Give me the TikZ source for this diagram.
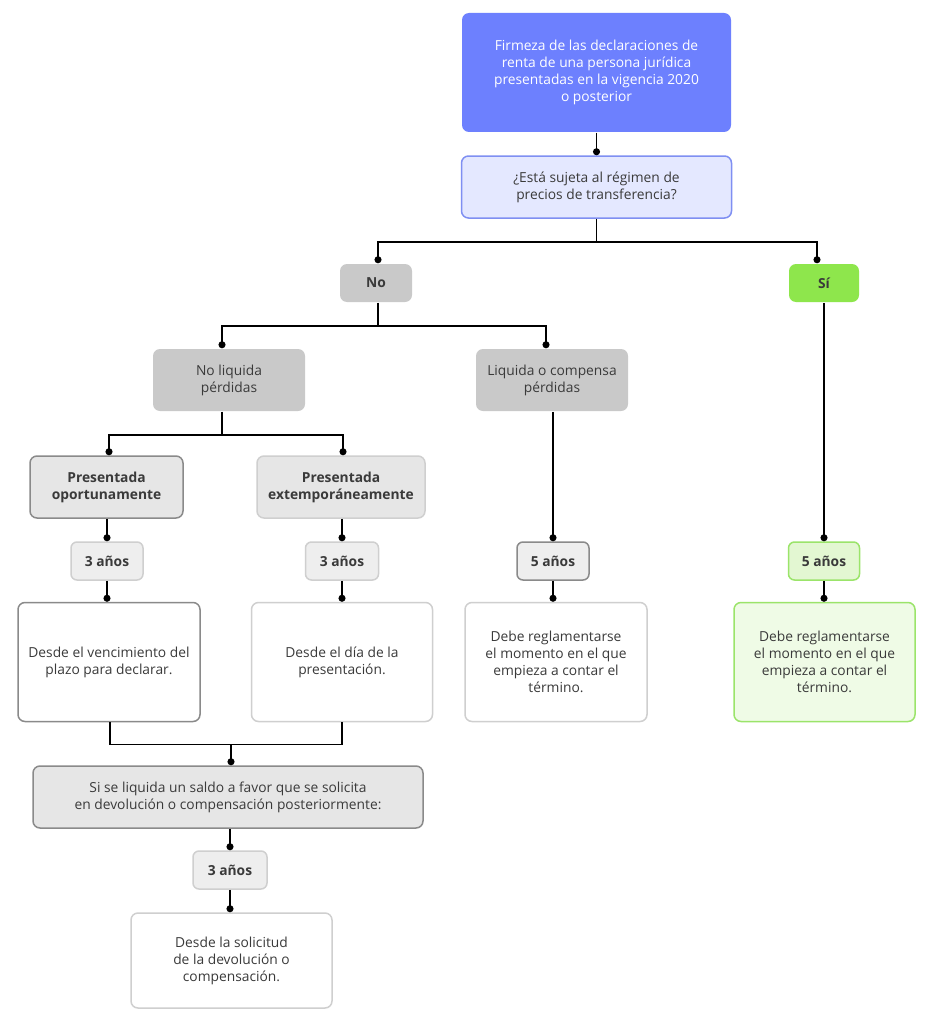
\documentclass[tikz,border=0pt]{standalone}
\usepackage{fontspec}
\setmainfont{Open Sans}
\usetikzlibrary{arrows.meta}
\definecolor{topblue}{HTML}{6D80FE}
\definecolor{qfill}{HTML}{E4E8FF}
\definecolor{qborder}{HTML}{7F8FF2}
\definecolor{nofill}{HTML}{C9C9C9}
\definecolor{sifill}{HTML}{8EE64C}
\definecolor{grayfill}{HTML}{E6E6E6}
\definecolor{yrfill}{HTML}{EEEEEE}
\definecolor{darkborder}{HTML}{8A8A8A}
\definecolor{lightborder}{HTML}{CFCFCF}
\definecolor{greenlight}{HTML}{E3F7D2}
\definecolor{greenborder}{HTML}{9BE46A}
\definecolor{greenpale}{HTML}{EFFBE6}
\definecolor{txt}{HTML}{3A3A3A}
\begin{document}
\begin{tikzpicture}[x=1pt,y=-1pt,
  box/.style={rounded corners=7pt, align=center, text=txt, inner sep=0pt,
    font=\fontsize{13.8}{17}\selectfont, line width=1.5pt},
  bbox/.style={box, font=\fontsize{13.8}{17}\selectfont\bfseries},
  conn/.style={line width=1.5pt, -{Circle[length=7pt,width=7pt]}},
  plain/.style={line width=1.5pt}]
\useasboundingbox (0,0) rectangle (936,1030);
\fill[white] (0,0) rectangle (936,1030);

% top
\node[box, fill=topblue, text=white, minimum width=269, minimum height=119] (top) at (596.5,72.5)
  {Firmeza de las declaraciones de\\renta de una persona jurídica\\presentadas en la vigencia 2020\\o posterior};
\node[box, fill=qfill, draw=qborder, minimum width=270, minimum height=62] (q) at (596.5,187)
  {¿Está sujeta al régimen de\\precios de transferencia?};

\node[bbox, fill=nofill, minimum width=72, minimum height=38] (no) at (376,283) {No};
\node[bbox, fill=sifill, minimum width=70, minimum height=38] (si) at (824,283) {Sí};

\node[box, fill=nofill, minimum width=152, minimum height=62] (nol) at (229,380) {No liquida\\pérdidas};
\node[box, fill=nofill, minimum width=152, minimum height=62] (lc) at (552,380) {Liquida o compensa\\pérdidas};

\node[bbox, fill=grayfill, draw=darkborder, minimum width=153, minimum height=62] (po) at (106.5,487) {Presentada\\oportunamente};
\node[bbox, fill=grayfill, draw=lightborder, minimum width=168, minimum height=62] (pe) at (341,487) {Presentada\\extemporáneamente};

\node[bbox, fill=yrfill, draw=lightborder, rounded corners=6pt, minimum width=72, minimum height=38] (a1) at (107,561) {3 años};
\node[bbox, fill=yrfill, draw=lightborder, rounded corners=6pt, minimum width=73, minimum height=38] (a2) at (342,561) {3 años};
\node[bbox, fill=yrfill, draw=darkborder, rounded corners=6pt, minimum width=72, minimum height=38] (a3) at (553,561) {5 años};
\node[bbox, fill=greenlight, draw=greenborder, rounded corners=6pt, minimum width=71, minimum height=38] (a4) at (824,561) {5 años};

\node[box, fill=white, draw=darkborder, minimum width=182, minimum height=119] (d1) at (109,662)
  {Desde el vencimiento del\\plazo para declarar.};
\node[box, fill=white, draw=lightborder, minimum width=181, minimum height=119] (d2) at (342,662)
  {Desde el día de la\\presentación.};
\node[box, fill=white, draw=lightborder, minimum width=182, minimum height=119] (d3) at (556,662)
  {Debe reglamentarse\\el momento en el que\\empieza a contar el\\término.};
\node[box, fill=greenpale, draw=greenborder, minimum width=181, minimum height=119] (d4) at (824.5,662)
  {Debe reglamentarse\\el momento en el que\\empieza a contar el\\término.};

\node[box, fill=grayfill, draw=darkborder, minimum width=390, minimum height=62] (sl) at (228,797)
  {Si se liquida un saldo a favor que se solicita\\en devolución o compensación posteriormente:};
\node[bbox, fill=yrfill, draw=lightborder, rounded corners=6pt, minimum width=74, minimum height=38] (a5) at (230,870) {3 años};
\node[box, fill=white, draw=lightborder, minimum width=201, minimum height=95] (d5) at (231.5,960.5)
  {Desde la solicitud\\de la devolución o\\compensación.};

% connectors
\draw[conn] (top.south) -- (q.north);
\draw[conn] (q.south) -- ++(0,23) -| ([xshift=2]no.north);
\draw[conn] (q.south) -- ++(0,23) -| ([xshift=-7]si.north);
\draw[conn] ([xshift=2]no.south) -- ++(0,23) -| ([xshift=-7]nol.north);
\draw[conn] ([xshift=2]no.south) -- ++(0,23) -| ([xshift=-6]lc.north);
\draw[conn] ([xshift=-7]nol.south) -- ++(0,23) -| ([xshift=2.5]po.north);
\draw[conn] ([xshift=-7]nol.south) -- ++(0,23) -| ([xshift=2]pe.north);
\draw[conn] (a1.north |- po.south) -- (a1.north);
\draw[conn] (a2.north |- pe.south) -- (a2.north);
\draw[conn] (a3.north |- lc.south) -- (a3.north);
\draw[conn] (si.south) -- (a4.north);
\draw[conn] (a1.south) -- (d1.north -| a1.south);
\draw[conn] (a2.south) -- (d2.north);
\draw[conn] (a3.south) -- (d3.north -| a3.south);
\draw[conn] (a4.south) -- (d4.north -| a4.south);
\draw[plain] ([xshift=1]d1.south) -- ++(0,22) coordinate (j1) -| (d2.south);
\coordinate (j) at (231,744);
\draw[conn] (j) -- (sl.north -| j);
\draw[conn] (sl.south -| a5.north) -- (a5.north);
\draw[conn] (a5.south) -- (d5.north -| a5.south);
\end{tikzpicture}
\end{document}
